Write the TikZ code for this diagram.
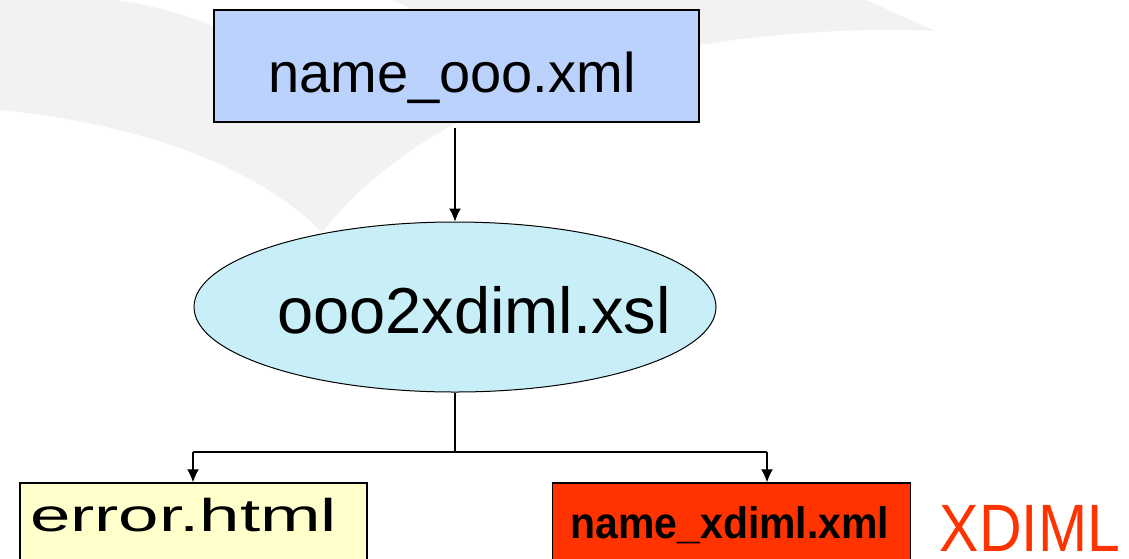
\documentclass[tikz,border=0pt]{standalone}
\usepackage{fontspec}
\setmainfont{Liberation Sans}
\usepackage{graphicx}
\usetikzlibrary{shapes.geometric,arrows.meta}
\definecolor{bgswoosh}{HTML}{F2F2F2}
\definecolor{srcfill}{HTML}{BBD2FC}
\definecolor{xslfill}{HTML}{C8EFF8}
\definecolor{errfill}{HTML}{FFFFCC}
\definecolor{xdimlred}{HTML}{FF3300}
\tikzset{
  boxshape/.style={draw=black, line width=1.5pt, rectangle, inner sep=0pt},
  conn/.style={line width=1.3pt, -{Latex[length=13pt,width=12pt]}},
  plainline/.style={line width=1.3pt},
  lbl/.style={anchor=base, inner sep=0pt},
}
\begin{document}
\begin{tikzpicture}[x=1pt,y=-1pt]
\useasboundingbox (0,0) rectangle (1129,558);
\clip (0,0) rectangle (1129,558);
\fill[white] (0,0) rectangle (1129,558);
% background swooshes
\fill[bgswoosh] (0,0) -- (115,0) .. controls (150,5) and (190,15) .. (214,27)
  -- (300,80) -- (465,118) .. controls (405,150) and (360,185) .. (322,232)
  .. controls (260,170) and (150,125) .. (0,110) -- cycle;
\fill[bgswoosh] (393,0) -- (866,0) -- (935,31) .. controls (850,27) and (760,35) .. (700,45)
  -- (600,50) -- (430,40) -- (410,8) -- cycle;
% nodes
\node[boxshape, fill=srcfill, minimum width=485pt, minimum height=112pt] (src) at (456.5,66) {};
\node[lbl, font=\fontsize{56}{60}\selectfont] (srctxt) at (452,92) {name\_ooo.xml};
\node[ellipse, draw=black, line width=1pt, fill=xslfill, minimum width=522pt, minimum height=170pt, inner sep=0pt] (xsl) at (455,307) {};
\node[lbl, font=\fontsize{65}{68}\selectfont] (xsltxt) at (474,333) {ooo2xdiml.xsl};
\node[boxshape, fill=errfill, minimum width=347pt, minimum height=120pt] (err) at (193.5,543) {};
\node[lbl, font=\fontsize{46}{48}\selectfont] (errtxt) at (183.5,531) {\scalebox{1.58}[1]{error.html}};
\node[boxshape, fill=xdimlred, minimum width=358pt, minimum height=120pt] (out) at (731.5,543) {};
\node[lbl, font=\bfseries\fontsize{44}{46}\selectfont] (outtxt) at (730,538) {\scalebox{0.93}[1]{name\_xdiml.xml}};
\node[lbl, text=xdimlred, font=\fontsize{67}{70}\selectfont] (xdiml) at (1030,551) {\scalebox{0.88}[1]{XDIML}};
% connectors
\coordinate (split) at (455,452);
\coordinate (splitL) at (193,452);
\coordinate (splitR) at (767,452);
\draw[conn] ([yshift=-5pt]xsl.north |- src.south) -- (xsl.north);
\draw[plainline] (xsl.south) -- (split);
\draw[plainline] (splitL) -- (splitR);
\draw[conn] (splitL) -- (splitL |- err.north);
\draw[conn] (splitR) -- (splitR |- out.north);
\end{tikzpicture}
\end{document}
